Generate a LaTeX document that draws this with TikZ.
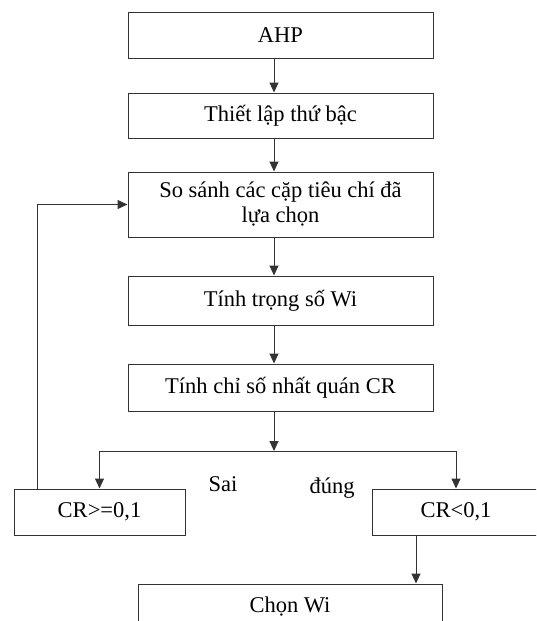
\documentclass[tikz,border=0pt]{standalone}
\usepackage{fontspec}
\setmainfont{Liberation Serif}
\usetikzlibrary{arrows.meta}
\begin{document}
\begin{tikzpicture}[x=1pt,y=-1pt,
  box/.style={draw=black!80, line width=1pt, rectangle, inner sep=0pt, align=center,
    font=\fontsize{22.5}{25}\selectfont},
  conn/.style={draw=black!80, line width=1pt, -{Triangle[length=10pt,width=9pt]}},
  lbl/.style={font=\fontsize{22.5}{25}\selectfont, inner sep=0pt}]
\useasboundingbox (0,0) rectangle (536,621);
\begin{scope}
\clip (0,0) rectangle (536,621);
\node[box, minimum width=305pt, minimum height=46pt] (ahp) at (280.5,35) {AHP};
\node[box, minimum width=305pt, minimum height=45pt] (thiet) at (280.5,115.5) {Thiết lập thứ bậc};
\node[box, minimum width=305pt, minimum height=65pt] (sosanh) at (280.5,204.5) {So sánh các cặp tiêu chí đã\\lựa chọn};
\node[box, minimum width=305pt, minimum height=49pt] (tinhw) at (280.5,300.5) {Tính trọng số Wi};
\node[box, minimum width=305pt, minimum height=47pt] (tinhcr) at (280.5,387.5) {Tính chỉ số nhất quán CR};
\node[box, minimum width=171pt, minimum height=46pt] (crge) at (99.5,512) {CR>=0,1};
\node[box, minimum width=168pt, minimum height=46pt] (crlt) at (456,512) {CR<0,1};
\node[box, minimum width=304pt, minimum height=46pt] (chon) at (290,607) {Chọn Wi};
\end{scope}
\node[lbl] (sai) at (223,484) {Sai};
\node[lbl] (dung) at (332,488) {đúng};
\coordinate (col) at (274,0);
\coordinate (split) at (274,451);
\coordinate (loopx) at (37.5,0);
\coordinate (downx) at (416,0);
\draw[conn] (ahp.south -| col) -- (thiet.north -| col);
\draw[conn] (thiet.south -| col) -- (sosanh.north -| col);
\draw[conn] (sosanh.south -| col) -- (tinhw.north -| col);
\draw[conn] (tinhw.south -| col) -- (tinhcr.north -| col);
\draw[conn] (tinhcr.south -| col) -- (split);
\draw[draw=black!80, line width=1pt] (split -| crge.north) -- (split -| crlt.north);
\draw[conn] (split -| crge.north) -- (crge.north);
\draw[conn] (split -| crlt.north) -- (crlt.north);
\draw[conn] (crge.north -| loopx) |- (sosanh.west);
\draw[conn] (crlt.south -| downx) -- (chon.north -| downx);
\end{tikzpicture}
\end{document}
